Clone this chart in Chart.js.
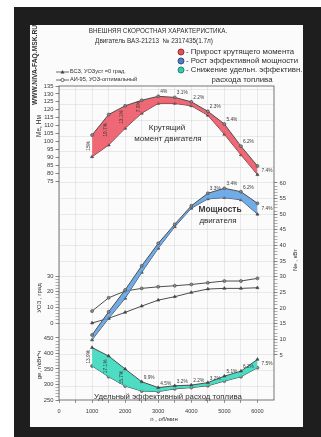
<!DOCTYPE html>
<html>
<head>
<meta charset="utf-8">
<script src="https://cdn.jsdelivr.net/npm/chart.js@4/dist/chart.umd.min.js"></script>
<style>
  html, body { margin:0; padding:0; width:321px; height:437px; overflow:hidden; background:#fff;
    font-family:'Liberation Sans', Arial, sans-serif; }
  #frame { position:absolute; left:14px; top:7px; width:307px; height:430px; background:#1e1e1e; }
  #paper { position:absolute; left:30px; top:25px; width:273px; height:402px; background:#fbfbfb; }
  #c { position:absolute; left:30px; top:25px; }
  .t { position:absolute; color:#2e2e2e; white-space:nowrap; line-height:1; transform:translate(-50%,-50%); }
  .l { position:absolute; color:#2e2e2e; white-space:nowrap; line-height:1; transform:translateY(-50%); }
  .v { position:absolute; color:#2e2e2e; white-space:nowrap; line-height:1; transform:translate(-50%,-50%) rotate(-90deg); }
  .dot { position:absolute; width:5px; height:5px; border-radius:50%; transform:translate(-50%,-50%); }
</style>
</head>
<body>
<div id="frame"></div>
<div id="paper"></div>
<canvas id="c" width="273" height="402"></canvas>

<div class="v" style="left:34.5px;top:65px;font-size:6.7px;font-weight:bold;color:#333">WWW.NIVA-FAQ.MSK.RU</div>

<div class="t" style="left:158px;top:31px;font-size:6.3px">ВНЕШНЯЯ СКОРОСТНАЯ ХАРАКТЕРИСТИКА.</div>
<div class="t" style="left:154px;top:41px;font-size:6.4px">Двигатель ВАЗ-21213&nbsp; № 2317435(1.7л)</div>

<div class="dot" style="left:181px;top:52px;background:#e2505c;border:1px solid #9a2a33"></div>
<div class="l" style="left:186px;top:52px;font-size:7.8px">- Прирост крутящего момента</div>
<div class="dot" style="left:181px;top:61px;background:#4f7fc0;border:1px solid #2d4f80"></div>
<div class="l" style="left:186px;top:61px;font-size:7.8px">- Рост эффективной мощности</div>
<div class="dot" style="left:181px;top:70px;background:#34c9aa;border:1px solid #1d8a74"></div>
<div class="l" style="left:186px;top:70px;font-size:7.8px">- Снижение удельн. эффективн.</div>
<div class="t" style="left:242px;top:80px;font-size:7.8px">расхода топлива</div>

<svg style="position:absolute;left:56px;top:69px" width="13" height="6">
  <line x1="0" y1="3" x2="13" y2="3" stroke="#444" stroke-width="0.8"/>
  <polygon points="6.5,1 8.5,4.5 4.5,4.5" fill="#444"/>
</svg>
<div class="l" style="left:70px;top:72px;font-size:5.6px">БСЗ, УОЗуст =0 град.</div>
<svg style="position:absolute;left:56px;top:77px" width="13" height="6">
  <line x1="0" y1="3" x2="13" y2="3" stroke="#444" stroke-width="0.8"/>
  <circle cx="6.5" cy="3" r="1.6" fill="#fff" stroke="#444" stroke-width="0.8"/>
</svg>
<div class="l" style="left:70px;top:80px;font-size:5.6px">АИ-95, УОЗ-оптимальный</div>

<div class="v" style="left:39px;top:126px;font-size:6.5px">Me, Нм</div>
<div class="v" style="left:39px;top:298px;font-size:6px">УОЗ , град</div>
<div class="v" style="left:39px;top:365px;font-size:6px">ge, г/кВт*ч</div>
<div class="v" style="left:295px;top:260px;font-size:6px">Ne , кВт</div>
<div class="t" style="left:164px;top:419px;font-size:6px">n , об/мин</div>

<div class="t" style="left:167px;top:128px;font-size:8px">Крутящий</div>
<div class="t" style="left:168px;top:138.5px;font-size:8px">момент двигателя</div>
<div class="t" style="left:220px;top:209px;font-size:8.4px;font-weight:bold;color:#3a3a3a">Мощность</div>
<div class="t" style="left:218px;top:220.5px;font-size:8px">двигателя</div>
<div class="t" style="left:168px;top:396.5px;font-size:7.8px">Удельный эффективный расход топлива</div>

<script>
// обороты двигателя, об/мин
const rpm = [1000, 1500, 2000, 2500, 3000, 3500, 4000, 4500, 5000, 5500, 6000];

// крутящий момент, Нм
const torqueAi95 = [104, 117, 122.5, 126, 128.5, 127.8, 125, 119, 111, 97, 84.5];
const torqueBsz  = [90.3, 97.7, 108.3, 117.8, 124, 124, 122.5, 116.5, 104.5, 91.5, 79];

// мощность, кВт
const powerAi95 = [11.4, 18.8, 25.8, 33.5, 40.7, 46.8, 52.7, 56.7, 58.3, 57.2, 53.5];
const powerBsz  = [9.8, 16.7, 23.1, 31.4, 39.1, 46.0, 51.9, 54.9, 55.3, 54.6, 50.0];

// угол опережения зажигания, град
const uozAi95 = [7.6, 16.1, 20.4, 22.1, 23.1, 23.8, 24.6, 25.7, 26.8, 26.8, 28.5];
const uozBsz  = [0, 3, 6.8, 10.8, 14.6, 16.8, 19.5, 21.7, 22.1, 22.1, 22.5];

// удельный расход топлива, г/кВт*ч
const geBsz  = [419, 392, 350, 309, 290, 296, 298, 306, 327, 343, 381];
const geAi95 = [360, 325, 295, 279, 277, 286, 290, 296, 311, 325, 354];

// подписи в процентах
const torqueGain = ['15%', '19.7%', '13.1%', '7.0%', '4%', '3.1%', '2.2%', '2.3%', '5.4%', '6.2%', '7.4%'];
const powerGain  = ['', '', '', '', '', '', '', '3.3%', '3.4%', '6.2%', '7.4%'];
const geDrop     = ['13.9%', '17.1%', '15.7%', '9.9%', '4.5%', '3.2%', '2.2%', '3.2%', '5.1%', '6.2%', '7.5%'];

// деления осей
const rpmTicks    = [0, 1000, 2000, 3000, 4000, 5000, 6000];
const torqueTicks = [75, 80, 85, 90, 95, 100, 105, 110, 115, 120, 125, 130, 135];
const uozTicks    = [0, 10, 20, 30];
const geTicks     = [250, 300, 350, 400, 450];
const neTicks     = [5, 10, 15, 20, 25, 30, 35, 40, 45, 50, 55, 60];

const range = (a, b, s) => { const out = []; for (let v = a; v <= b + 1e-9; v += s) out.push(+v.toFixed(3)); return out; };

Chart.defaults.font.family = "'Liberation Sans', Arial, sans-serif";

const LINE = '#4d4d4d';

function yAxis(pos, min, max, major, minor, gridOnly) {
  const lo = major[0], hi = major[major.length - 1];
  const all = [...new Set(major.concat(minor, gridOnly || []))].sort((a, b) => a - b);
  return {
    type: 'linear', position: pos, min, max,
    afterFit: s => { s.width = 0; },
    afterBuildTicks: s => { s.ticks = all.map(v => ({ value: v })); },
    ticks: { autoSkip: false, padding: 2, color: '#3a3a3a', font: { size: 5.8 },
      callback: v => major.includes(v) ? String(v) : '' },
    grid: {
      drawOnChartArea: !!gridOnly,
      color: c => (gridOnly && c.tick.value % 5 === 0) ? 'rgba(0,0,0,0.07)' : 'rgba(0,0,0,0)',
      tickLength: 3.5,
      tickColor: c => (c.tick.value < lo || c.tick.value > hi) ? 'rgba(0,0,0,0)' : '#555',
      tickWidth: c => major.includes(c.tick.value) ? 0.7 : 0.45
    },
    border: { display: false }
  };
}

function series(data, axis, style, fill, bg) {
  return {
    data: rpm.map((x, i) => ({ x, y: data[i] })),
    yAxisID: axis,
    borderColor: LINE, borderWidth: 1,
    pointStyle: style, pointRadius: style === 'triangle' ? 1.8 : 1.5,
    pointBackgroundColor: style === 'triangle' ? '#444' : '#888',
    pointBorderColor: '#444', pointBorderWidth: 0.6,
    fill: fill || false, backgroundColor: bg || 'transparent'
  };
}

// оси с нулевой шириной: расширяем их рамки, чтобы подписи не обрезались
const widenAxes = {
  id: 'widenAxes',
  afterLayout(chart) {
    Object.values(chart.scales).forEach(s => {
      if (s.position === 'left') s.left = s.right - 30;
      else if (s.position === 'right') s.right = s.left + 30;
      else if (s.position === 'bottom') s.bottom = s.top + 25;
    });
  }
};

// рамка графика
const boxPlugin = {
  id: 'box',
  afterDraw(chart) {
    const { ctx, chartArea: a } = chart;
    ctx.save();
    ctx.strokeStyle = '#555';
    ctx.lineWidth = 0.8;
    ctx.strokeRect(a.left, a.top, a.right - a.left, a.bottom - a.top);
    ctx.restore();
  }
};

// подписи процентов у полос
const bands = [
  { axis: 'yT', upper: torqueAi95, lower: torqueBsz, labels: torqueGain, rotated: 4 },
  { axis: 'yN', upper: powerAi95, lower: powerBsz, labels: powerGain, rotated: 0 },
  { axis: 'yG', upper: geBsz, lower: geAi95, labels: geDrop, rotated: 3 }
];
const bandLabels = {
  id: 'bandLabels',
  afterDatasetsDraw(chart) {
    const ctx = chart.ctx, xs = chart.scales.x;
    ctx.save();
    ctx.fillStyle = '#3a3a3a';
    ctx.font = "4.8px 'Liberation Sans', Arial, sans-serif";
    bands.forEach(b => {
      const ys = chart.scales[b.axis];
      b.labels.forEach((txt, i) => {
        if (!txt) return;
        const px = xs.getPixelForValue(rpm[i]);
        const pu = ys.getPixelForValue(b.upper[i]);
        const pl = ys.getPixelForValue(b.lower[i]);
        if (i < b.rotated) {
          ctx.save();
          ctx.translate(px - 3, (pu + pl) / 2);
          ctx.rotate(-Math.PI / 2);
          ctx.textAlign = 'center'; ctx.textBaseline = 'middle';
          ctx.fillText(txt, 0, 0);
          ctx.restore();
        } else if (i === rpm.length - 1) {
          ctx.textAlign = 'left'; ctx.textBaseline = 'middle';
          ctx.fillText(txt, px + 4, (pu + pl) / 2);
        } else {
          ctx.textAlign = 'left'; ctx.textBaseline = 'bottom';
          ctx.fillText(txt, px + 2, pu - 2);
        }
      });
    });
    ctx.restore();
  }
};

new Chart(document.getElementById('c').getContext('2d'), {
  type: 'line',
  data: {
    datasets: [
      series(torqueAi95, 'yT', 'circle', '+1', 'rgba(236,78,94,0.85)'),
      series(torqueBsz, 'yT', 'triangle'),
      series(powerAi95, 'yN', 'circle', '+1', 'rgba(88,158,226,0.85)'),
      series(powerBsz, 'yN', 'triangle'),
      series(geBsz, 'yG', 'triangle', '+1', 'rgba(58,216,190,0.9)'),
      series(geAi95, 'yG', 'circle'),
      series(uozAi95, 'yU', 'circle'),
      series(uozBsz, 'yU', 'triangle')
    ]
  },
  options: {
    responsive: false,
    animation: false,
    events: [],
    layout: { padding: { left: 29, right: 29, top: 61, bottom: 27 } },
    plugins: { legend: { display: false }, tooltip: { enabled: false } },
    scales: {
      x: {
        type: 'linear', position: 'bottom', min: 0, max: 6500,
        afterFit: s => { s.height = 0; },
        afterBuildTicks: s => { s.ticks = range(0, 6000, 500).map(v => ({ value: v })); },
        ticks: { autoSkip: false, maxRotation: 0, padding: 5, color: '#3a3a3a', font: { size: 5.6 },
          callback: v => rpmTicks.includes(v) ? String(v) : '' },
        grid: { color: 'rgba(0,0,0,0.07)', tickLength: 3, tickColor: '#555', tickWidth: 0.6 },
        border: { display: false }
      },
      yT: yAxis('left', -63.3, 135, torqueTicks, []),
      yU: yAxis('left', -49.15, 151.3, uozTicks, range(0, 30, 2)),
      yG: yAxis('left', 250, 1262.9, geTicks, range(250, 450, 10)),
      yN: yAxis('right', -9.4, 91, neTicks, range(5, 60, 1), [-5, 0, 65, 70, 75, 80, 85, 90])
    }
  },
  plugins: [widenAxes, boxPlugin, bandLabels]
});
</script>
</body>
</html>
